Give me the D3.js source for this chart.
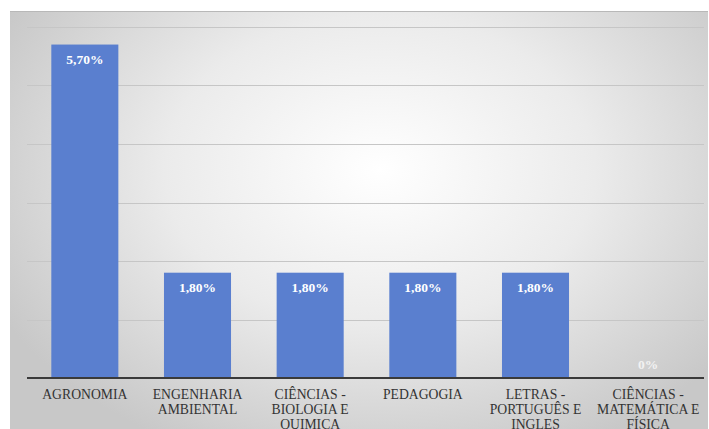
<!DOCTYPE html>
<html>
<head>
<meta charset="utf-8">
<script src="https://cdn.jsdelivr.net/npm/d3@7"></script>
<style>
  html, body { margin: 0; padding: 0; background: #fff; overflow: hidden; }
  svg { display: block; }
</style>
</head>
<body>
<svg id="chart" width="709" height="429"></svg>
<script>
// Course names (each entry split into its wrapped lines) and their percentages
const categories = [
  ["AGRONOMIA"],
  ["ENGENHARIA", "AMBIENTAL"],
  ["CIÊNCIAS -", "BIOLOGIA E", "QUIMICA"],
  ["PEDAGOGIA"],
  ["LETRAS -", "PORTUGUÊS E", "INGLES"],
  ["CIÊNCIAS -", "MATEMÁTICA E", "FÍSICA"]
];
const values = [5.7, 1.8, 1.8, 1.8, 1.8, 0];
const valueLabels = ["5,70%", "1,80%", "1,80%", "1,80%", "1,80%", "0%"];
const gridTicks = [0, 1, 2, 3, 4, 5, 6];

const W = 709, H = 429;
const FONT = '"Liberation Serif"';
const svg = d3.select("#chart");

// Panel with a soft radial gray gradient
const defs = svg.append("defs");
const grad = defs.append("radialGradient")
  .attr("id", "bg").attr("gradientUnits", "userSpaceOnUse")
  .attr("cx", 380).attr("cy", 170).attr("r", 430)
  .attr("gradientTransform", "translate(380,170) scale(1,0.72) translate(-380,-170)");
grad.append("stop").attr("offset", "0%").attr("stop-color", "#ffffff");
grad.append("stop").attr("offset", "50%").attr("stop-color", "#ebebeb");
grad.append("stop").attr("offset", "100%").attr("stop-color", "#c8c8c8");

svg.append("rect").attr("x", 10).attr("y", 11).attr("width", W - 11).attr("height", H - 11)
  .attr("fill", "url(#bg)");
svg.append("line").attr("x1", 10).attr("x2", W - 1).attr("y1", 11.5).attr("y2", 11.5)
  .attr("stroke", "#b8b8b8").attr("stroke-width", 1);

const x = d3.scaleBand().domain(d3.range(categories.length)).range([28.5, 704.5]).paddingInner(0.405).paddingOuter(0.2025);
const y = d3.scaleLinear().domain([0, 6]).range([378, 27]);

// Horizontal gridlines
svg.append("g").selectAll("line").data(gridTicks.filter(d => d > 0)).join("line")
  .attr("x1", 27).attr("x2", 704)
  .attr("y1", d => Math.round(y(d)) + 0.5).attr("y2", d => Math.round(y(d)) + 0.5)
  .attr("stroke", "#c6c6c6").attr("stroke-width", 1);

// Bars
svg.append("g").selectAll("rect").data(values).join("rect")
  .attr("x", (d, i) => x(i)).attr("width", x.bandwidth())
  .attr("y", d => y(d)).attr("height", d => y(0) - y(d))
  .attr("fill", "#5a7fcf");

// Baseline
svg.append("line").attr("x1", 27).attr("x2", 704).attr("y1", y(0)).attr("y2", y(0))
  .attr("stroke", "#3a3a3a").attr("stroke-width", 2);

// Value labels inside the bar tops
svg.append("g").selectAll("text").data(values).join("text")
  .attr("x", (d, i) => x(i) + x.bandwidth() / 2)
  .attr("y", d => Math.min(y(d) + 19, y(0) - 9))
  .attr("text-anchor", "middle")
  .style("font-family", FONT)
  .style("font-weight", "bold").style("font-size", "13.5px")
  .style("fill", (d) => d > 0 ? "#ffffff" : "#f2f2f2")
  .text((d, i) => valueLabels[i]);

// Category labels, wrapped onto several lines
const lab = svg.append("g").selectAll("text").data(categories).join("text")
  .attr("x", (d, i) => x(i) + x.bandwidth() / 2)
  .attr("y", 399)
  .attr("text-anchor", "middle")
  .style("font-family", FONT)
  .style("font-size", "13.7px")
  .style("fill", "#333333");
lab.selectAll("tspan").data(d => d).join("tspan")
  .attr("x", function() { return d3.select(this.parentNode).attr("x"); })
  .attr("dy", (d, j) => j === 0 ? 0 : 15)
  .text(d => d);
</script>
</body>
</html>
